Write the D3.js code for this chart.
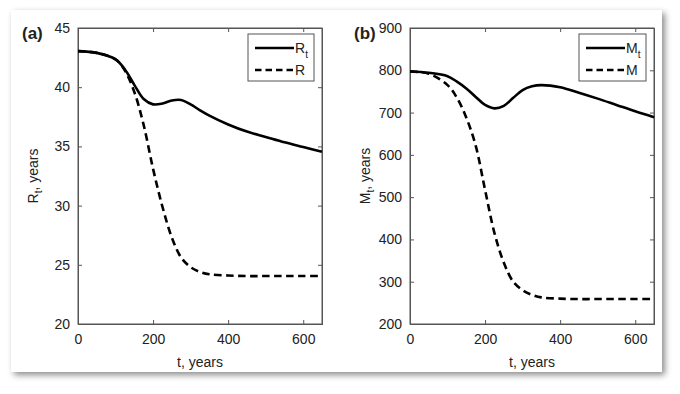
<!DOCTYPE html>
<html>
<head>
<meta charset="utf-8">
<script src="https://cdn.jsdelivr.net/npm/d3@7"></script>
<style>
  body { margin: 0; background: #fff; }
  svg { display: block; font-family: "Liberation Sans", Arial, sans-serif; }
</style>
</head>
<body>
<svg width="680" height="394"></svg>
<script>
// time grid (years) shared by all series
var tYears = [0, 50, 100, 125, 150, 175, 200, 225, 250, 275, 300, 325, 350, 400, 450, 500, 550, 600, 650]

// panel (a)
var rtVals = [43.05, 42.9, 42.35, 41.5, 40.2, 39.0, 38.55, 38.62, 38.88, 38.92, 38.55, 38.05, 37.6, 36.85, 36.25, 35.8, 35.35, 34.95, 34.55]
var rVals  = [43.05, 42.9, 42.35, 41.4, 39.6, 36.8, 33.1, 29.9, 27.3, 25.6, 24.8, 24.4, 24.2, 24.1, 24.05, 24.05, 24.05, 24.05, 24.05]

// panel (b)
var mtVals = [797, 794, 786, 773, 757, 737, 718, 710, 716, 735, 753, 762, 765, 760, 747, 733, 718, 703, 689]
var mVals  = [797, 792, 765, 735, 688, 622, 517, 415, 345, 300, 280, 269, 263, 260, 259, 259, 259, 259, 259]

var xTicks = [0, 200, 400, 600]
var yTicksA = [20, 25, 30, 35, 40, 45]
var yTicksB = [200, 300, 400, 500, 600, 700, 800, 900]

var svg = d3.select('svg')

var defs = svg.append('defs')
var f = defs.append('filter').attr('id', 'shadow')
  .attr('x', '-5%').attr('y', '-5%').attr('width', '115%').attr('height', '120%')
f.append('feDropShadow')
  .attr('dx', 3).attr('dy', 3).attr('stdDeviation', 3)
  .attr('flood-color', '#000').attr('flood-opacity', 0.45)

// white card
svg.append('rect')
  .attr('x', 11).attr('y', 10).attr('width', 651).attr('height', 362)
  .attr('fill', '#fff')
  .attr('filter', 'url(#shadow)')

var plotTop = 28, plotBottom = 324

function panel(opts) {
  var g = svg.append('g')
  var x = d3.scaleLinear().domain([0, 650]).range([opts.left, opts.left + 244])
  var y = d3.scaleLinear().domain(opts.yDomain).range([plotBottom, plotTop])

  g.append('rect')
    .attr('x', x(0)).attr('y', plotTop)
    .attr('width', x(650) - x(0)).attr('height', plotBottom - plotTop)
    .attr('fill', '#fff').attr('stroke', '#555').attr('stroke-width', 1)

  var axB = g.append('g').attr('transform', 'translate(0,' + plotBottom + ')')
    .call(d3.axisBottom(x).tickValues(xTicks).tickSize(-4).tickPadding(10).tickFormat(d3.format('d')))
  var axT = g.append('g').attr('transform', 'translate(0,' + plotTop + ')')
    .call(d3.axisTop(x).tickValues(xTicks).tickSize(-4).tickFormat(''))
  var axL = g.append('g').attr('transform', 'translate(' + x(0) + ',0)')
    .call(d3.axisLeft(y).tickValues(opts.yTicks).tickSize(-4).tickPadding(8).tickFormat(d3.format('d')))
  var axR = g.append('g').attr('transform', 'translate(' + x(650) + ',0)')
    .call(d3.axisRight(y).tickValues(opts.yTicks).tickSize(-4).tickFormat(''))

  ;[axB, axT, axL, axR].forEach(function(a) {
    a.select('.domain').attr('stroke', '#555')
    a.selectAll('.tick line').attr('stroke', '#555')
    a.selectAll('.tick text').attr('fill', '#222').style('font-size', '14px')
      .style('font-family', '"Liberation Sans", Arial, sans-serif')
  })

  var line = d3.line()
    .x(function(d, i) { return x(tYears[i]) })
    .y(function(d) { return y(d) })
    .curve(d3.curveCatmullRom.alpha(0.5))

  g.append('path').datum(opts.dashed)
    .attr('d', line).attr('fill', 'none')
    .attr('stroke', '#000').attr('stroke-width', 2.6)
    .attr('stroke-dasharray', '7.5,4.5')
  g.append('path').datum(opts.solid)
    .attr('d', line).attr('fill', 'none')
    .attr('stroke', '#000').attr('stroke-width', 2.6)

  // panel letter
  g.append('text')
    .attr('x', opts.left - 56).attr('y', 39)
    .style('font-size', '17px').style('font-weight', 'bold').attr('fill', '#222')
    .text(opts.letter)

  // x label
  g.append('text')
    .attr('x', (x(0) + x(650)) / 2).attr('y', 367)
    .attr('text-anchor', 'middle').style('font-size', '14px').attr('fill', '#222')
    .text('t, years')

  // y label
  var yl = g.append('text')
    .attr('transform', 'translate(' + (opts.left - 40) + ',' + ((plotTop + plotBottom) / 2) + ') rotate(-90)')
    .attr('text-anchor', 'middle').style('font-size', '14px').attr('fill', '#222')
  yl.append('tspan').text(opts.sym)
  yl.append('tspan').attr('dy', 4).style('font-size', '10px').text('t')
  yl.append('tspan').attr('dy', -4).text(', years')

  // legend
  var lx = opts.legendX, ly = 34
  var lg = g.append('g')
  lg.append('rect')
    .attr('x', lx).attr('y', ly).attr('width', opts.legendW).attr('height', 47)
    .attr('fill', '#fff').attr('stroke', '#555').attr('stroke-width', 1)
  lg.append('line')
    .attr('x1', lx + 7).attr('x2', lx + 46).attr('y1', ly + 14).attr('y2', ly + 14)
    .attr('stroke', '#000').attr('stroke-width', 2.6)
  lg.append('line')
    .attr('x1', lx + 7).attr('x2', lx + 46).attr('y1', ly + 36).attr('y2', ly + 36)
    .attr('stroke', '#000').attr('stroke-width', 2.6).attr('stroke-dasharray', '6.5,4')
  var t1 = lg.append('text').attr('x', lx + 47).attr('y', ly + 19)
    .style('font-size', '14px').attr('fill', '#222')
  t1.append('tspan').text(opts.sym)
  t1.append('tspan').attr('dy', 5).style('font-size', '10px').text('t')
  lg.append('text').attr('x', lx + 47).attr('y', ly + 41)
    .style('font-size', '14px').attr('fill', '#222')
    .text(opts.sym)
}

panel({ left: 78, yDomain: [20, 45], yTicks: yTicksA, solid: rtVals, dashed: rVals,
        letter: '(a)', sym: 'R', legendX: 248, legendW: 66 })
panel({ left: 410, yDomain: [200, 900], yTicks: yTicksB, solid: mtVals, dashed: mVals,
        letter: '(b)', sym: 'M', legendX: 579, legendW: 67 })
</script>
</body>
</html>
